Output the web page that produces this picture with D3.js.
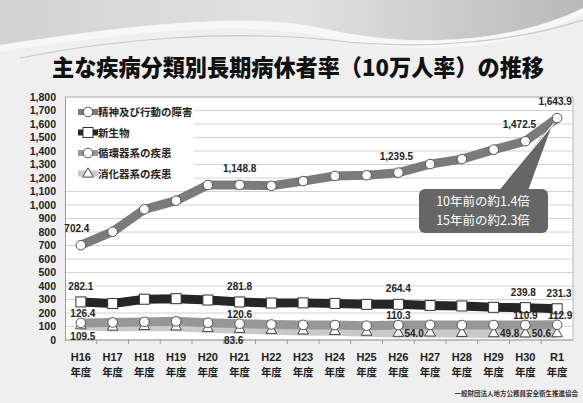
<!DOCTYPE html>
<html>
<head>
<meta charset="utf-8">
<script src="https://cdn.jsdelivr.net/npm/d3@7"></script>
<style>
  html, body { margin: 0; padding: 0; background: #efefef; }
  svg { display: block; }
</style>
</head>
<body>
<svg id="chart" width="583" height="403"></svg>
<script>
// Fiscal years (H = Heisei, R1 = Reiwa 1)
const years = ["H16","H17","H18","H19","H20","H21","H22","H23","H24","H25","H26","H27","H28","H29","H30","R1"];
const yearSuffix = "年度";

// Long-term sick leave rate per 100,000 staff, by disease category
const mental      = [702.4, 802, 968, 1032, 1148, 1148.8, 1142, 1177, 1215, 1220, 1239.5, 1303, 1340, 1410, 1472.5, 1643.9];
const neoplasm    = [282.1, 270, 302, 306, 296, 281.8, 274, 275, 271, 264, 264.4, 256, 252, 242, 239.8, 231.3];
const circulatory = [126.4, 130, 134, 138, 128, 120.6, 115, 112, 111, 106, 110.3, 112, 111, 111, 110.9, 112.9];
const digestive   = [109.5, 100, 104, 101, 90, 83.6, 76, 71, 68, 62, 54.0, 56, 53, 51, 49.8, 50.6];

const seriesNames = ["精神及び行動の障害", "新生物", "循環器系の疾患", "消化器系の疾患"];
const labelledYears = ["H16","H21","H26","H30","R1"];
const yTicks = d3.range(0, 1801, 100);

const title = "主な疾病分類別長期病休者率（10万人率）の推移";
const callout = ["10年前の約1.4倍", "15年前の約2.3倍"];
const source = "一般財団法人地方公務員安全衛生推進協会";

const svg = d3.select("#chart");
const W = 583, H = 403;
const jp = "'Noto Sans CJK JP', 'Noto Sans', sans-serif";
const num = "'Liberation Sans', Arial, sans-serif";

// ---- decorative header swoosh ----
const defs = svg.append("defs");
const g1 = defs.append("linearGradient").attr("id", "sw1").attr("x1", 0).attr("x2", 1);
g1.append("stop").attr("offset", 0).attr("stop-color", "#d2d2d2");
g1.append("stop").attr("offset", 0.5).attr("stop-color", "#e2e2e2");
g1.append("stop").attr("offset", 1).attr("stop-color", "#b9b9b9");
svg.append("rect").attr("width", W).attr("height", H).attr("fill", "#efefef");
svg.append("path")
  .attr("d", "M0,0 L583,0 L583,8 C520,40 420,50 330,30 C260,12 150,22 0,45 Z")
  .attr("fill", "url(#sw1)");
svg.append("path")
  .attr("d", "M0,45 C150,22 260,12 330,30 C420,50 520,40 583,8 L583,14 C520,48 420,58 330,38 C250,20 140,30 0,52 Z")
  .attr("fill", "#f7f7f7");
svg.append("path")
  .attr("d", "M20,58 C120,38 230,30 330,40 C430,52 520,40 583,20")
  .attr("fill", "none").attr("stroke", "#c8c8c8").attr("stroke-width", 1.2);

// ---- title ----
svg.append("text")
  .attr("x", 52).attr("y", 76)
  .attr("textLength", 492).attr("lengthAdjust", "spacingAndGlyphs")
  .attr("font-family", jp).attr("font-weight", 900).attr("font-size", 23)
  .attr("fill", "#111")
  .text(title);

// ---- plot area ----
const m = { left: 65, right: 573, top: 97, bottom: 340 };
const x = d3.scaleBand().domain(years).range([m.left, m.right]);
const y = d3.scaleLinear().domain([0, 1800]).range([m.bottom, m.top]);
const cx = d => x(d) + x.bandwidth() / 2;

svg.append("rect")
  .attr("x", m.left).attr("y", m.top)
  .attr("width", m.right - m.left).attr("height", m.bottom - m.top)
  .attr("fill", "#ffffff");

// gridlines
svg.append("g").selectAll("line").data(yTicks).join("line")
  .attr("x1", m.left).attr("x2", m.right)
  .attr("y1", d => y(d)).attr("y2", d => y(d))
  .attr("stroke", "#d2d2d2").attr("stroke-width", 1);

// frame (right + top)
svg.append("path")
  .attr("d", `M${m.left},${m.top}H${m.right}V${m.bottom}`)
  .attr("fill", "none").attr("stroke", "#b8b8b8");

// y axis
const yAxis = svg.append("g")
  .attr("transform", `translate(${m.left},0)`)
  .call(d3.axisLeft(y).tickValues(yTicks).tickSize(0).tickPadding(9).tickFormat(d3.format(",")));
yAxis.select(".domain").attr("stroke", "#999");
yAxis.selectAll("text")
  .attr("font-family", num).attr("font-weight", "bold").attr("font-size", 10.5).attr("fill", "#222");

// x axis: ticks between categories
const xAxisG = svg.append("g").attr("transform", `translate(0,${m.bottom})`);
xAxisG.append("line").attr("x1", m.left).attr("x2", m.right).attr("stroke", "#999");
xAxisG.selectAll("line.tk").data(years.slice(1)).join("line")
  .attr("class", "tk")
  .attr("x1", d => x(d)).attr("x2", d => x(d))
  .attr("y1", 0).attr("y2", 4).attr("stroke", "#999");
const xl = xAxisG.selectAll("g.lab").data(years).join("g")
  .attr("class", "lab")
  .attr("transform", d => `translate(${cx(d)},0)`);
xl.append("text").attr("y", 21).attr("text-anchor", "middle")
  .attr("font-family", num).attr("font-weight", "bold").attr("font-size", 11).attr("fill", "#222")
  .text(d => d);
xl.append("text").attr("y", 36).attr("text-anchor", "middle")
  .attr("font-family", jp).attr("font-weight", "bold").attr("font-size", 10.5).attr("fill", "#222")
  .text(yearSuffix);

// ---- series ----
const series = [
  { name: seriesNames[3], values: digestive,   color: "#c9c9c9", width: 10, marker: "triangle" },
  { name: seriesNames[2], values: circulatory, color: "#979797", width: 9,  marker: "circle" },
  { name: seriesNames[1], values: neoplasm,    color: "#262626", width: 9,  marker: "square" },
  { name: seriesNames[0], values: mental,      color: "#7b7b7b", width: 9,  marker: "circle" }
];

const line = d3.line().x((d, i) => cx(years[i])).y(d => y(d));

function drawMarker(sel, type, px, py) {
  if (type === "circle") {
    sel.append("circle").attr("cx", px).attr("cy", py).attr("r", 4.8)
      .attr("fill", "#fff").attr("stroke", "#555").attr("stroke-width", 1);
  } else if (type === "square") {
    sel.append("rect").attr("x", px - 5).attr("y", py - 5).attr("width", 10).attr("height", 10)
      .attr("fill", "#fff").attr("stroke", "#333").attr("stroke-width", 1);
  } else {
    sel.append("path")
      .attr("d", d3.symbol().type(d3.symbolTriangle).size(50)())
      .attr("transform", `translate(${px},${py + 0.5})`)
      .attr("fill", "#fff").attr("stroke", "#444").attr("stroke-width", 1);
  }
}

series.forEach(s => {
  svg.append("path").datum(s.values)
    .attr("d", line)
    .attr("fill", "none").attr("stroke", s.color)
    .attr("stroke-width", s.width).attr("stroke-linejoin", "round");
});
series.forEach(s => {
  const g = svg.append("g");
  s.values.forEach((v, i) => drawMarker(g, s.marker, cx(years[i]), y(v)));
});

// ---- data labels ----
const fmt = d3.format(",.1f");
const labelSpec = [
  { vals: mental,      dy: -13, dx: [ -4, 0, -2, -6, -2 ] },
  { vals: neoplasm,    dy: -12, dx: [ 0, 0, 0, -2, 2 ] },
  { vals: circulatory, dy: -6,  dx: [ 2, 0, 0, 0, 3 ] },
  { vals: digestive,   dy: 15,  dx: [ 2, -6, 0, 0, 0 ] }
];
const labelG = svg.append("g")
  .attr("font-family", num).attr("font-weight", "bold").attr("font-size", 10).attr("fill", "#222");
labelSpec.forEach((spec, si) => {
  labelledYears.forEach((yr, k) => {
    const i = years.indexOf(yr);
    const v = spec.vals[i];
    let px = cx(yr) + spec.dx[k], py = y(v) + spec.dy, anchor = "middle";
    if (si === 3 && k >= 2) {
      // digestive labels sit beside the markers
      py = y(v) + 4;
      if (k === 2) { px = cx(yr) + 6; anchor = "start"; }
      else { px = cx(yr) - 6; anchor = "end"; }
    }
    labelG.append("text").attr("x", px).attr("y", py).attr("text-anchor", anchor).text(fmt(v));
  });
});

// ---- legend ----
const leg = svg.append("g");
leg.append("rect").attr("x", 66).attr("y", 98).attr("width", 128).attr("height", 82).attr("fill", "#fff");
const legOrder = [
  { name: seriesNames[0], color: "#7b7b7b", marker: "circle" },
  { name: seriesNames[1], color: "#262626", marker: "square" },
  { name: seriesNames[2], color: "#979797", marker: "circle" },
  { name: seriesNames[3], color: "#c9c9c9", marker: "triangle" }
];
legOrder.forEach((d, i) => {
  const ly = 112 + i * 20.5;
  leg.append("line").attr("x1", 78).attr("x2", 98).attr("y1", ly).attr("y2", ly)
    .attr("stroke", d.color).attr("stroke-width", 6);
  drawMarker(leg, d.marker, 88, ly);
  leg.append("text").attr("x", 98).attr("y", ly + 4)
    .attr("font-family", jp).attr("font-weight", "bold").attr("font-size", 10.5).attr("fill", "#222")
    .text(d.name);
});

// ---- callout ----
const rx = cx("R1"), ry = y(mental[mental.length - 1]);
const co = svg.append("g");
co.append("path")
  .attr("d", `M${rx - 4},${ry + 4} L${rx - 60},${193} L${rx - 30},${193} Z`)
  .attr("fill", "#666");
co.append("rect").attr("x", 419).attr("y", 189).attr("width", 129).attr("height", 44).attr("rx", 6)
  .attr("fill", "#666");
co.append("path")
  .attr("d", `M${rx - 3},${ry + 5} L${rx - 58},${189}`)
  .attr("stroke", "#fff").attr("stroke-width", 1.2);
callout.forEach((t, i) => {
  co.append("text").attr("x", 483).attr("y", 206 + i * 19).attr("text-anchor", "middle")
    .attr("font-family", jp).attr("font-size", 12.5).attr("fill", "#fff").text(t);
});

// ---- source note ----
svg.append("text").attr("x", 578).attr("y", 396).attr("text-anchor", "end")
  .attr("font-family", jp).attr("font-weight", "bold").attr("font-size", 6.5).attr("fill", "#333")
  .text(source);
</script>
</body>
</html>
